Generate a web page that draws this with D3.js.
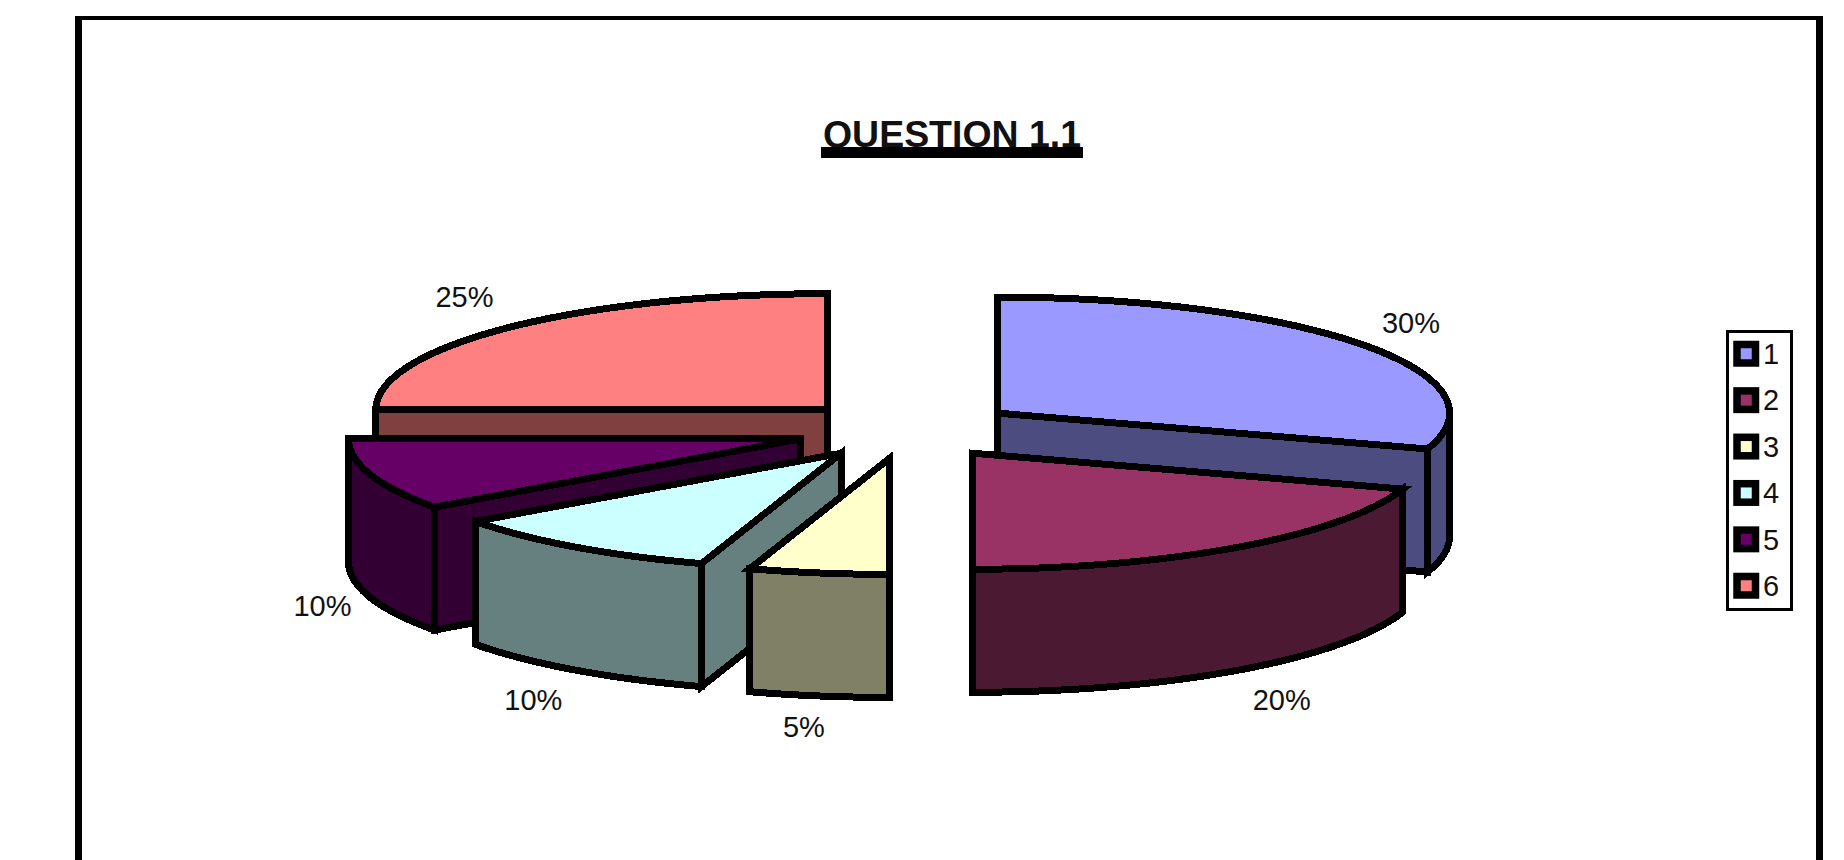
<!DOCTYPE html>
<html>
<head>
<meta charset="utf-8">
<script src="https://cdn.jsdelivr.net/npm/d3@7/dist/d3.min.js"></script>
<style>
html,body{margin:0;padding:0;background:#fff;overflow:hidden}
svg{display:block}
text{font-family:"Liberation Sans",Arial,sans-serif;fill:#111}
</style>
</head>
<body>
<svg id="chart" width="1844" height="860"></svg>
<script>
const titleText = "QUESTION 1.1";
const categories = ["1", "2", "3", "4", "5", "6"];
const values = [30, 20, 5, 10, 10, 25];
const topColors = ["#9999FF", "#993366", "#FFFFCC", "#CCFFFF", "#660066", "#FF8080"];
const sideColors = ["#4C4C80", "#4C1933", "#808066", "#668080", "#330033", "#804040"];
const drawOrder = ["6", "1", "5", "4", "2", "3"];

const W = 1844, H = 860;
const svg = d3.select("#chart");
const cx = 907, cy = 430, rx = 452, ry = 116, depth = 123, explode = 112;
const strokeW = 7;
const labelNudgeX = [-3.5, 6, -5, -5, 12, 1];
const labelNudgeY = [1, -1, -7, -1, -3.5, -3.5];

// frame
const frame = svg.append("g").attr("fill", "#000");
frame.append("rect").attr("x", 75).attr("y", 16).attr("width", 1748).attr("height", 4);
frame.append("rect").attr("x", 75).attr("y", 16).attr("width", 7).attr("height", H - 16);
frame.append("rect").attr("x", 1816).attr("y", 16).attr("width", 7).attr("height", H - 16);

// title
svg.append("text").attr("x", 952).attr("y", 147)
  .attr("text-anchor", "middle").attr("font-size", 36).attr("font-weight", "bold")
  .attr("textLength", 258).attr("lengthAdjust", "spacingAndGlyphs").text(titleText);
svg.append("rect").attr("x", 821).attr("y", 147).attr("width", 262).attr("height", 11).attr("fill", "#000");

// pie layout (clockwise from 12 o'clock)
const pie = d3.pie().sort(null).value(d => d.value);
const rows = categories.map((c, i) => ({ cat: c, value: values[i], top: topColors[i], side: sideColors[i], index: i }));
const arcs = pie(rows);
const sx = d3.scaleLinear().domain([-1, 1]).range([-rx, rx]);
const sy = d3.scaleLinear().domain([-1, 1]).range([-ry, ry]);
const line = d3.line().x(d => d[0]).y(d => d[1]);
const EPS = 1e-6;

function pt(c, a, dz) { return [c.x + sx(Math.sin(a)), c.y + sy(-Math.cos(a)) + (dz || 0)]; }
function arcPts(c, a0, a1, dz) {
  const n = Math.max(2, Math.ceil((a1 - a0) / 0.02));
  return d3.range(n + 1).map(k => pt(c, a0 + (a1 - a0) * k / n, dz));
}
const slices = arcs.map(a => {
  const mid = (a.startAngle + a.endAngle) / 2;
  const c = { x: cx + explode * Math.sin(mid), y: cy - explode * Math.cos(mid) * ry / rx };
  return Object.assign({}, a, { mid, c, d: a.data });
});

const pieG = svg.append("g").attr("stroke", "#000").attr("stroke-width", strokeW)
  .attr("stroke-linejoin", "miter").attr("stroke-miterlimit", 3).attr("shape-rendering", "crispEdges");

drawOrder.forEach(cat => {
  const s = slices.find(v => v.d.cat === cat);
  const g = pieG.append("g");
  const c = s.c, o = [c.x, c.y], od = [c.x, c.y + depth];
  const cut = a => {
    const p = pt(c, a), pd = pt(c, a, depth);
    g.append("path").attr("d", line([o, p, pd, od]) + "Z").attr("fill", s.d.side);
  };
  if (-Math.sin(s.startAngle) > EPS) cut(s.startAngle);
  if (Math.sin(s.endAngle) > EPS) cut(s.endAngle);
  // outer wall: only the part turned toward the viewer
  const a0 = Math.max(s.startAngle, Math.PI / 2), a1 = Math.min(s.endAngle, 3 * Math.PI / 2);
  if (a1 > a0) {
    const upper = arcPts(c, a0, a1, 0), lower = arcPts(c, a0, a1, depth).reverse();
    g.append("path").attr("d", line(upper.concat(lower)) + "Z").attr("fill", s.d.side);
  }
  // top face
  g.append("path").attr("d", line([o].concat(arcPts(c, s.startAngle, s.endAngle, 0))) + "Z").attr("fill", s.d.top);
});

// percentage labels
const labelX = 1.14, labelY = 1.33;
const total = d3.sum(values);
svg.append("g").selectAll("text").data(slices).join("text")
  .attr("text-anchor", "middle").attr("dominant-baseline", "central").attr("font-size", 29)
  .attr("x", s => s.c.x + sx(Math.sin(s.mid)) * labelX + labelNudgeX[s.d.index])
  .attr("y", s => s.c.y + sy(-Math.cos(s.mid)) * labelY + (Math.cos(s.mid) < 0 ? depth : 0) + labelNudgeY[s.d.index])
  .text(s => Math.round(s.d.value / total * 100) + "%");

// legend
const legend = svg.append("g");
legend.append("rect").attr("x", 1727.5).attr("y", 331.5).attr("width", 64).attr("height", 278)
  .attr("fill", "#fff").attr("stroke", "#000").attr("stroke-width", 3);
const ly = d3.scalePoint().domain(categories).range([354, 586]);
const items = legend.selectAll("g").data(rows).join("g").attr("transform", d => `translate(0,${ly(d.cat)})`);
items.append("rect").attr("x", 1737).attr("y", -9.5).attr("width", 18.5).attr("height", 18.5)
  .attr("fill", d => d.top).attr("stroke", "#000").attr("stroke-width", 7.5);
items.append("text").attr("x", 1763).attr("y", 0).attr("dominant-baseline", "central")
  .attr("font-size", 29).text(d => d.cat);
</script>
</body>
</html>
